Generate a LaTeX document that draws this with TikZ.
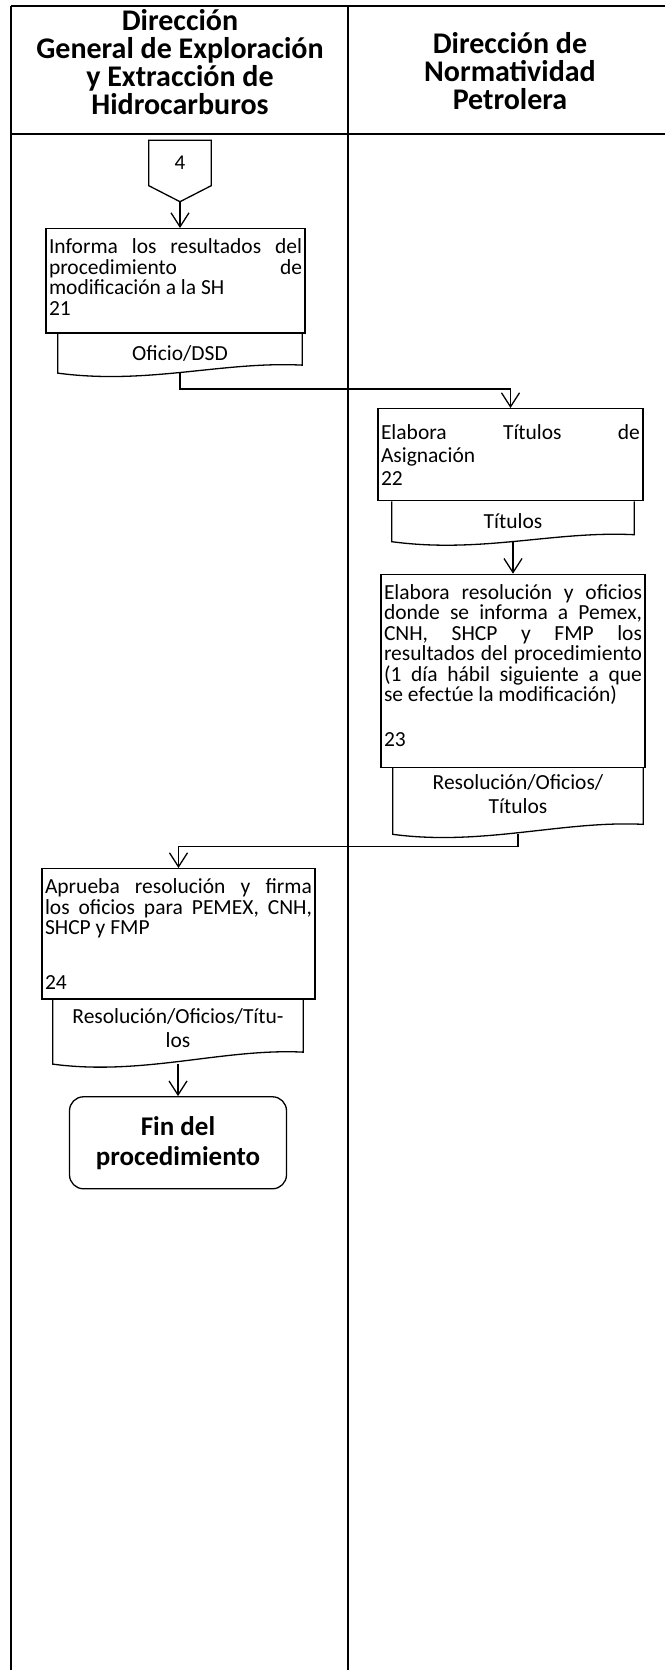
\documentclass[tikz,border=0pt]{standalone}
\usepackage{fontspec}
\setmainfont{Carlito}
\usetikzlibrary{calc}
\usetikzlibrary{positioning}
\usetikzlibrary{arrows.meta}

\tikzset{
  lane/.style={line width=1.6pt},
  head/.style={align=center, font=\bfseries\fontsize{30}{28}\selectfont},
  task/.style={draw, line width=1.3pt, anchor=north, align=justify, inner xsep=3pt, inner ysep=10pt, font=\fontsize{21.5}{20.5}\selectfont},
  doc/.style={anchor=north, align=center, inner sep=0pt, font=\fontsize{21.5}{24}\selectfont},
  fin/.style={draw, line width=1.3pt, rounded corners=14pt, align=center, font=\bfseries\fontsize{27}{30}\selectfont},
  flow/.style={line width=1.3pt, -{Straight Barb[length=14pt,width=18pt]}}
}

\begin{document}
\begin{tikzpicture}[x=1pt,y=-1pt]
\newcommand\Wave[2]{(#1.north west) -- (#1.south west) .. controls +(90,12) and +(-80,-4) .. ($(#1.south east)+(0,-#2)$) -- (#1.north east)}
\newcommand\Gap[1]{\rule[-#1]{0pt}{#1}}
\useasboundingbox (0,0) rectangle (665,1670);

% lanes
\draw[lane] (11,6) -- (665,6);
\draw[lane] (11,134) -- (665,134);
\draw[lane] (11,6) -- (11,1670);
\draw[lane] (348,6) -- (348,1670);

\node[head] (h1) at (180,62) {Dirección\\General de Exploración\\y Extracción de\\Hidrocarburos};
\node[head] (h2) at (510,71) {Dirección de\\Normatividad\\Petrolera};

% off-page connector
\node[minimum width=62pt, minimum height=45pt, inner sep=0pt, font=\fontsize{21}{21}\selectfont] (c4) at (180,163) {4};
\draw[line width=1.3pt] (c4.north west) -- (c4.north east) -- (c4.south east) -- ($(c4.south)+(0,16)$) -- (c4.south west) -- cycle;
\coordinate (c4tip) at ($(c4.south)+(0,16)$);

% 21
\node[task, text width=253pt] (t21) at (175.5,228) {Informa los resultados del\linebreak procedimiento de\linebreak modificación a la SH\\21\Gap{8pt}};
\node[doc, minimum width=244pt, minimum height=39pt] (d21) at ($(t21.south)+(4.5,0)$) {Oficio/DSD};
\draw[line width=1.3pt] \Wave{d21}{8};

% 22
\node[task, text width=259pt, minimum height=92pt, font=\fontsize{21.5}{23}\selectfont] (t22) at (510.5,408) {Elabora Títulos de\linebreak Asignación\\22};
\node[doc, minimum width=242pt, minimum height=40pt] (d22) at ($(t22.south)+(2.5,0)$) {Títulos};
\draw[line width=1.3pt] \Wave{d22}{7};

% 23
\node[task, text width=258pt, below=32pt of d22] (t23) {Elabora resolución y oficios\linebreak donde se informa a Pemex,\linebreak CNH, SHCP y FMP los\linebreak resultados del procedimiento\linebreak (1 día hábil siguiente a que\linebreak se efectúe la modificación)\\[24pt]23\Gap{11pt}};
\node[doc, minimum width=250pt, minimum height=66pt] (d23) at ($(t23.south)+(5,0)$) {Resolución/Oficios/\\Títulos\Gap{14pt}};
\draw[line width=1.3pt] \Wave{d23}{10};

% 24
\node[task, text width=267pt] (t24) at (178.5,868) {Aprueba resolución y firma\linebreak los oficios para PEMEX, CNH,\linebreak SHCP y FMP\\[34pt]24};
\node[doc, minimum width=250pt, minimum height=64pt] (d24) at ($(t24.south)+(-0.5,0)$) {Resolución/Oficios/Títu-\\los\Gap{8pt}};
\draw[line width=1.3pt] \Wave{d24}{12};

\node[fin, minimum width=217pt, minimum height=92pt, below=32pt of d24] (fin) {Fin del\\procedimiento};

% flow
\draw[flow] (c4tip) -- (c4tip |- t21.north);
\draw[flow] (d21.south) -- ++(0,16) -| (t22.north);
\draw[flow] (d22.south) -- (t23.north);
\draw[flow] (d23.south) -- ++(0,12) -| (t24.north);
\draw[flow] (d24.south) -- (d24.south |- fin.north);
\end{tikzpicture}
\end{document}
